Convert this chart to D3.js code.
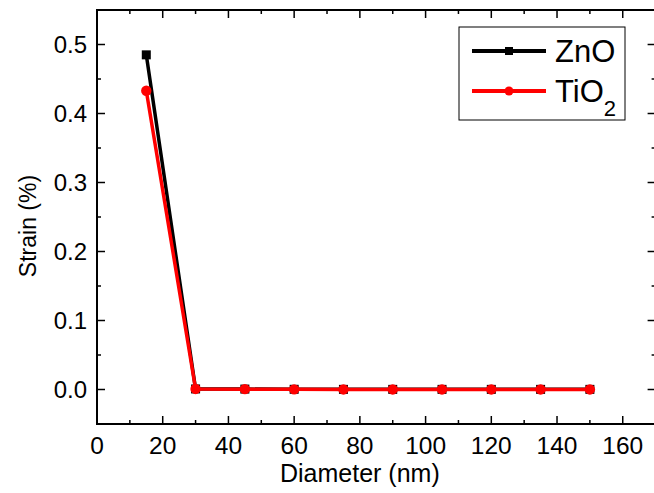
<!DOCTYPE html>
<meta charset="utf-8">
<title>Strain vs diameter</title>
<style>
body { margin: 0; background: #fff; }
svg { display: block; font-family: "Liberation Sans", Arial, sans-serif; }
.tick-mark { stroke: #000; stroke-width: 1.5px; }
.series { fill: none; stroke-width: 3.5px; stroke-linejoin: round; }
</style>
<svg id="chart" width="654" height="493"></svg>
<script src="https://cdn.jsdelivr.net/npm/d3@7"></script>
<script>
// data
const diameters = [15, 30, 45, 60, 75, 90, 105, 120, 135, 150];
const znoStrain = [0.485, 0.0008, 0.0006, 0.0003, 0.0002, 0.0002, 0.0002, 0.0002, 0.0002, 0.0002];
const tio2Strain = [0.433, 0.0008, 0.0005, 0.0002, 0.0001, 0.0001, 0.0001, 0.0001, 0.0001, 0.0001];
const xTicks = [0, 20, 40, 60, 80, 100, 120, 140, 160];
const xMinor = [10, 30, 50, 70, 90, 110, 130, 150, 170];
const yTicks = [0.0, 0.1, 0.2, 0.3, 0.4, 0.5];
const yMinor = [-0.05, 0.05, 0.15, 0.25, 0.35, 0.45, 0.55];

const svg = d3.select("#chart"),
    pLeft = 97, pRight = 655.6, pTop = 10, pBottom = 424;

let x = d3.scaleLinear().domain([0, 170]).range([pLeft, pRight]),
    y = d3.scaleLinear().domain([-0.05, 0.55]).range([pBottom, pTop]);

function label(px, py, str, size, anchor) {
  return svg.append("text")
      .attr("x", px).attr("y", py)
      .attr("text-anchor", anchor || "middle")
      .style("font-size", size + "px")
      .text(str);
}

// ticks (inward, on all four sides)
let ticks = svg.append("g");
xTicks.concat(xMinor).forEach(v => {
  let len = xTicks.includes(v) ? 8 : 4;
  ticks.append("line").attr("class", "tick-mark")
    .attr("x1", x(v)).attr("x2", x(v)).attr("y1", pBottom).attr("y2", pBottom - len);
  ticks.append("line").attr("class", "tick-mark")
    .attr("x1", x(v)).attr("x2", x(v)).attr("y1", pTop).attr("y2", pTop + len);
});
yTicks.concat(yMinor).forEach(v => {
  let len = yTicks.includes(v) ? 8 : 4;
  ticks.append("line").attr("class", "tick-mark")
    .attr("y1", y(v)).attr("y2", y(v)).attr("x1", pLeft).attr("x2", pLeft + len);
  ticks.append("line").attr("class", "tick-mark")
    .attr("y1", y(v)).attr("y2", y(v)).attr("x1", pRight).attr("x2", pRight - len);
});

// frame
svg.append("rect")
    .attr("x", pLeft).attr("y", pTop)
    .attr("width", pRight - pLeft).attr("height", pBottom - pTop)
    .attr("fill", "none").attr("stroke", "#000").attr("stroke-width", 2);

// tick labels
xTicks.forEach(v => label(x(v), 454, d3.format("d")(v), 24.5));
yTicks.forEach(v => label(pLeft - 10, y(v) + 8.5, d3.format(".1f")(v), 24, "end"));

// axis titles
label((pLeft + 622.7) / 2, 482, "Diameter (nm)", 25);
svg.append("text")
    .attr("transform", "translate(36," + 226 + ") rotate(-90)")
    .attr("text-anchor", "middle")
    .style("font-size", "23px")
    .text("Strain (%)");

// series
let line = d3.line().x(d => x(d[0])).y(d => y(d[1]));
let zno = diameters.map((d, i) => [d, znoStrain[i]]),
    tio2 = diameters.map((d, i) => [d, tio2Strain[i]]);

svg.append("path").attr("class", "series").attr("stroke", "#000").attr("d", line(zno));
svg.selectAll("rect.zno").data(zno).enter().append("rect")
    .attr("class", "zno")
    .attr("x", d => x(d[0]) - 4.5).attr("y", d => y(d[1]) - 4.5)
    .attr("width", 9).attr("height", 9).attr("fill", "#000");

svg.append("path").attr("class", "series").attr("stroke", "#ff0000").attr("d", line(tio2));
svg.selectAll("circle.tio2").data(tio2).enter().append("circle")
    .attr("class", "tio2")
    .attr("cx", d => x(d[0])).attr("cy", d => y(d[1])).attr("r", 5.2)
    .attr("fill", "#ff0000");

// legend
let lg = svg.append("g");
lg.append("rect").attr("x", 459).attr("y", 27).attr("width", 166).attr("height", 93)
  .attr("fill", "#fff").attr("stroke", "#000").attr("stroke-width", 1);
lg.append("line").attr("x1", 472).attr("x2", 546).attr("y1", 51).attr("y2", 51)
  .attr("stroke", "#000").attr("stroke-width", 4);
lg.append("rect").attr("x", 505).attr("y", 47).attr("width", 8).attr("height", 8).attr("fill", "#000");
lg.append("line").attr("x1", 472).attr("x2", 546).attr("y1", 91).attr("y2", 91)
  .attr("stroke", "#ff0000").attr("stroke-width", 4);
lg.append("circle").attr("cx", 509).attr("cy", 91).attr("r", 4.5).attr("fill", "#ff0000");
label(555, 62, "ZnO", 31, "start");
let t = label(555, 101.5, "TiO", 31, "start");
t.append("tspan").attr("dy", 14).style("font-size", "22px").text("2");
</script>
